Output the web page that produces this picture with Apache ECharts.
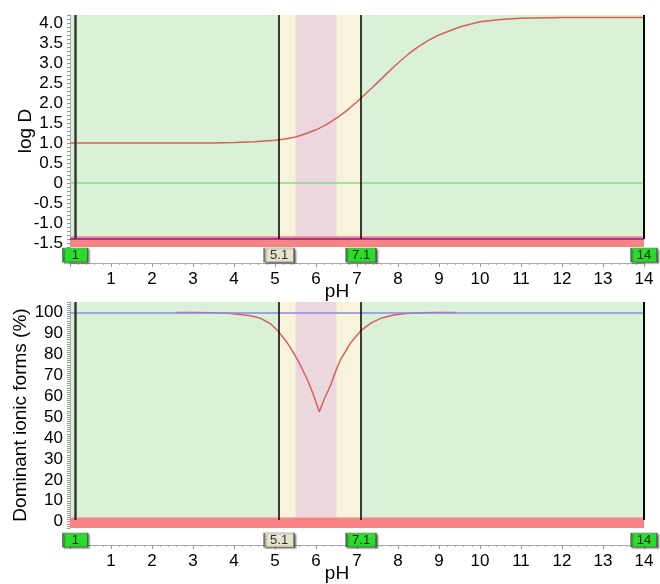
<!DOCTYPE html>
<html><head><meta charset="utf-8">
<script src="https://cdn.jsdelivr.net/npm/echarts@6/dist/echarts.min.js"></script>
<style>html,body{margin:0;padding:0;background:#fff}#c{width:660px;height:584px}</style>
</head><body><div id="c"></div>
<script>
// ---- data ----
const phTop = [0, 1, 2, 3, 3.5, 4, 4.5, 5, 5.25, 5.5, 5.75, 6, 6.25, 6.5, 6.75, 7, 7.25, 7.5, 7.75, 8, 8.25, 8.5, 8.75, 9, 9.5, 10, 10.5, 11, 12, 13, 14];
const logD  = [1.0, 1.0, 1.0, 1.0, 1.0, 1.01, 1.03, 1.07, 1.1, 1.15, 1.23, 1.33, 1.46, 1.62, 1.81, 2.03, 2.27, 2.51, 2.76, 3.0, 3.22, 3.41, 3.57, 3.7, 3.9, 4.03, 4.09, 4.12, 4.14, 4.14, 4.14];
const phBottom = [2.6, 3, 3.5, 3.8, 4.1, 4.4, 4.65, 4.9, 5.1, 5.3, 5.45, 5.6, 5.8, 5.95, 6.08, 6.2, 6.35, 6.5, 6.6, 6.85, 7.1, 7.35, 7.6, 7.9, 8.2, 8.6, 9, 9.4];
const dominant = [100, 100, 99.9, 99.7, 99.2, 98.4, 97.2, 94.5, 90.5, 85.5, 80.8, 75.5, 67.5, 60, 52.5, 58.5, 65, 73, 77.5, 85.7, 91.4, 95, 97.4, 98.8, 99.5, 99.9, 100, 100];
const markerPH = [0.13, 5.1, 7.1, 14];
const markerLabels = ['1', '5.1', '7.1', '14'];
const bandOuter = [5.1, 7.1];
const bandInner = [5.5, 6.5];
const xTickLabels = ['', '1', '2', '3', '4', '5', '6', '7', '8', '9', '10', '11', '12', '13', '14'];
const topRefLine = 0;
const bottomRefLine = 100;

// ---- styling ----
const FONT = 'Liberation Sans, Arial, Helvetica, sans-serif';
const GREEN_BG = '#d9f1d6', YELLOW = '#f8f4dc', PINK = '#ebd7dd', RED_BAND = '#f88383';
const CURVE = '#d95f5f';

const chart = echarts.init(document.getElementById('c'), null, {renderer: 'canvas'});

function xAxisFor(grid, offset, gap) {
  return {
    type: 'value', gridIndex: grid, min: 0, max: 14, interval: 1, offset: offset,
    axisLine: {show: true, onZero: false, lineStyle: {color: '#aaaaaa', width: 1}},
    axisTick: {show: true, length: 4, lineStyle: {color: '#999'}},
    minorTick: {show: true, splitNumber: 5, length: 2, lineStyle: {color: '#aaa'}},
    splitLine: {show: false},
    axisLabel: {fontFamily: FONT, fontSize: 17, color: '#000', margin: 8,
      formatter: v => xTickLabels[Math.round(v)] || ''},
    name: 'pH', nameLocation: 'middle', nameGap: gap, nameMoveOverlap: false,
    nameTextStyle: {fontFamily: FONT, fontSize: 19, color: '#000', padding: [0, 40, 0, 0]}
  };
}
function hiddenX(grid) { return {type: 'value', gridIndex: grid, min: 0, max: 14, show: false}; }
function hiddenY(grid) { return {type: 'value', gridIndex: grid, min: -1, max: 1, show: false}; }

function vLines(lo, hi) {
  return markerPH.map((p, i) => [
    {coord: [p, lo], lineStyle: {color: i === 0 ? '#383838' : '#000', width: i === 0 ? 2.5 : (i === 3 ? 2 : 1.5), type: 'solid'}},
    {coord: [p, hi]}
  ]);
}
function bands(redLo, redHi) {
  return [
    [{xAxis: bandOuter[0], itemStyle: {color: YELLOW}}, {xAxis: bandOuter[1]}],
    [{xAxis: bandInner[0], itemStyle: {color: PINK}}, {xAxis: bandInner[1]}],
    [{yAxis: redLo, itemStyle: {color: RED_BAND}}, {yAxis: redHi}]
  ];
}
function tagSeries(xi, yi) {
  const sizes = [[25, 14], [30, 14], [30, 14], [26, 14]];
  const fills = ['#12ee12', '#fbf8dc', '#12ee12', '#12ee12'];
  return {
    type: 'scatter', xAxisIndex: xi, yAxisIndex: yi, clip: false, silent: true, z: 5,
    symbol: 'rect',
    data: markerPH.map((p, i) => ({
      value: [p, 0], name: markerLabels[i], symbolSize: sizes[i],
      itemStyle: {color: fills[i], borderColor: '#444', borderWidth: 1,
        shadowColor: 'rgba(0,0,0,0.55)', shadowBlur: 1.5, shadowOffsetX: 1.5, shadowOffsetY: 1.5}
    })),
    label: {show: true, position: 'inside', formatter: p => p.name,
      fontFamily: FONT, fontSize: 13, color: '#000'}
  };
}

const option = {
  animation: false,
  backgroundColor: '#fff',
  grid: [
    {left: 70, right: 16, top: 15, height: 232, show: true, backgroundColor: GREEN_BG, borderWidth: 0},
    {left: 70, right: 16, top: 302, height: 229, show: true, backgroundColor: GREEN_BG, borderWidth: 0},
    {left: 70, right: 16, top: 248, height: 14},
    {left: 70, right: 16, top: 533, height: 14}
  ],
  xAxis: [xAxisFor(0, 16, 19), xAxisFor(1, 17, 19), hiddenX(2), hiddenX(3)],
  yAxis: [
    {type: 'value', gridIndex: 0, min: -1.6, max: 4.2, interval: 0.1,
     axisLine: {show: true, lineStyle: {color: '#aaaaaa'}},
     axisTick: {show: true, length: 3, lineStyle: {color: '#999'}},
     splitLine: {show: false},
     axisLabel: {fontFamily: FONT, fontSize: 17, color: '#000', margin: 7,
       formatter: v => { const r = Math.round(v * 10); if (r % 5 !== 0) return ''; return r === 0 ? '0' : (r / 10).toFixed(1); }},
     name: 'log D', nameLocation: 'middle', nameGap: 35, nameMoveOverlap: false,
     nameTextStyle: {fontFamily: FONT, fontSize: 19, color: '#000'}},
    {type: 'value', gridIndex: 1, min: -3, max: 105, interval: 1,
     axisLine: {show: true, lineStyle: {color: '#aaaaaa'}},
     axisTick: {show: true, length: 3, lineStyle: {color: '#999'}},
     splitLine: {show: false},
     axisLabel: {fontFamily: FONT, fontSize: 17, color: '#000', margin: 7,
       formatter: v => { const r = Math.round(v); return (r >= 0 && r % 10 === 0) ? String(r) : ''; }},
     name: 'Dominant ionic forms (%)', nameLocation: 'middle', nameGap: 40, nameMoveOverlap: false,
     nameTextStyle: {fontFamily: FONT, fontSize: 19, color: '#000'}},
    hiddenY(2), hiddenY(3)
  ],
  series: [
    // top plot backgrounds
    {type: 'line', xAxisIndex: 0, yAxisIndex: 0, data: [], z: 1, silent: true,
     markArea: {silent: true, data: bands(-1.6, -1.33)}},
    {type: 'line', xAxisIndex: 0, yAxisIndex: 0, data: [], z: 2, silent: true,
     markLine: {silent: true, symbol: ['none', 'none'], label: {show: false},
       data: [
         {yAxis: topRefLine, lineStyle: {color: '#7fe07f', width: 1.5, type: 'solid'}},
         {yAxis: -1.4, lineStyle: {color: '#9a3c9a', width: 2, type: 'solid'}}
       ].concat(vLines(-1.4, 4.2))}},
    {type: 'line', xAxisIndex: 0, yAxisIndex: 0, z: 3, silent: true, showSymbol: false,
     smooth: false,
     lineStyle: {color: CURVE, width: 1.5},
     data: phTop.map((p, i) => [p, logD[i]])},
    // bottom plot backgrounds
    {type: 'line', xAxisIndex: 1, yAxisIndex: 1, data: [], z: 1, silent: true,
     markArea: {silent: true, data: bands(-3, 2)}},
    {type: 'line', xAxisIndex: 1, yAxisIndex: 1, data: [], z: 2, silent: true,
     markLine: {silent: true, symbol: ['none', 'none'], label: {show: false},
       data: [
         {yAxis: bottomRefLine, lineStyle: {color: '#8a8cd8', width: 1.5, type: 'solid'}}
       ].concat(vLines(0.8, 105))}},
    {type: 'line', xAxisIndex: 1, yAxisIndex: 1, z: 3, silent: true, showSymbol: false,
     lineStyle: {color: CURVE, width: 1.5},
     data: phBottom.map((p, i) => [p, dominant[i]])},
    tagSeries(2, 2),
    tagSeries(3, 3)
  ]
};
chart.setOption(option);
</script>
</body></html>
